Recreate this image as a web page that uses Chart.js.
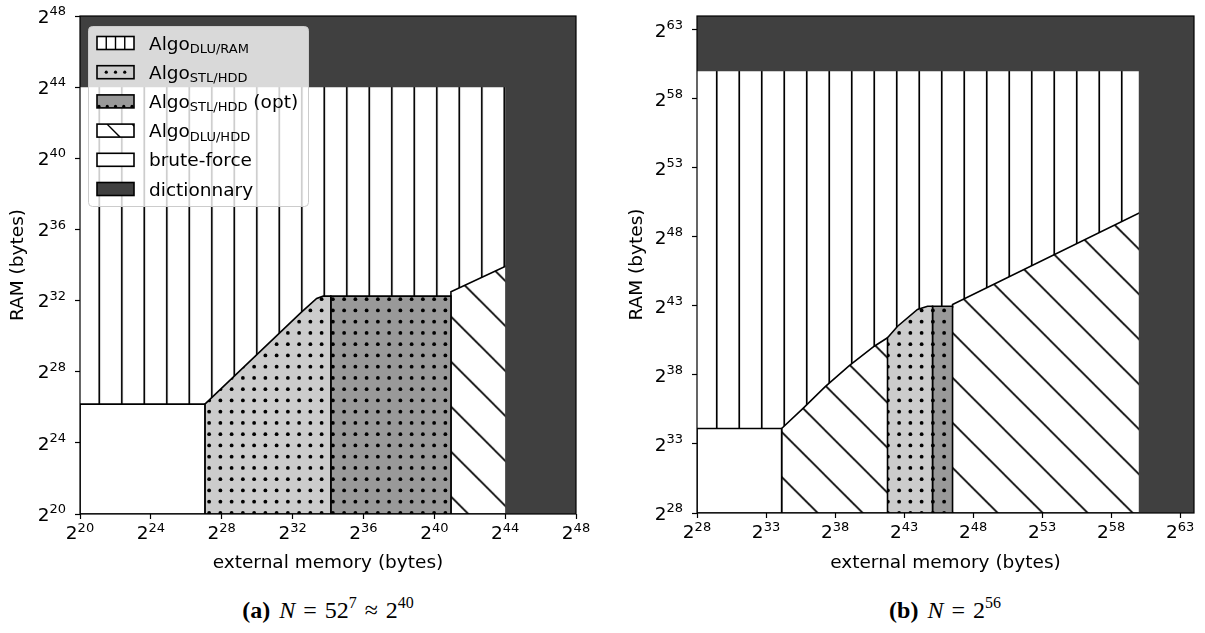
<!DOCTYPE html>
<html>
<head>
<meta charset="utf-8">
<script src="https://cdn.jsdelivr.net/npm/chart.js@4.4.0/dist/chart.umd.min.js"></script>
<style>
  html, body { margin: 0; padding: 0; background: #fff; }
  body { width: 1205px; height: 633px; position: relative; overflow: hidden; }
  canvas { position: absolute; top: 0; }
  #chartA { left: 0; }
  #chartB { left: 600px; }
  .caption { position: absolute; top: 597px; width: 400px; text-align: center;
             font-family: "Liberation Serif", "DejaVu Serif", serif; font-size: 24px; color: #000; }
  .caption sup { font-size: 16px; vertical-align: 0; position: relative; top: -10px; }
  .caption .op { margin: 0 8px; }
  .caption b { margin-right: 3px; }
</style>
</head>
<body>
<canvas id="chartA" width="600" height="590"></canvas>
<canvas id="chartB" width="605" height="590"></canvas>
<div class="caption" style="left:128px"><b>(a)</b> <i>N</i><span class="op">=</span>52<sup>7</sup><span class="op">≈</span>2<sup>40</sup></div>
<div class="caption" style="left:745px"><b>(b)</b> <i>N</i><span class="op">=</span>2<sup>56</sup></div>
<script>
// axis ticks, as powers of two
const ticksA = [20, 24, 28, 32, 36, 40, 44, 48];
const ticksB = [28, 33, 38, 43, 48, 53, 58, 63];

// panel (a), N = 52^7: regions as [log2 external memory, log2 RAM] corners
const dluRamA = [[20, 20], [20, 48], [48, 48], [48, 20]];
const dluHddA = [[40.94, 20], [40.94, 32.5], [48, 35.78], [48, 20], [40.94, 20]];
const stlOptA = [[34.16, 20], [34.16, 32.25], [40.94, 32.25], [40.94, 20], [34.16, 20]];
const stlA = [[27.05, 20], [27.05, 26.18], [32.47, 31.32], [33.36, 32.12], [33.73, 32.25],
              [34.16, 32.25], [34.16, 20], [27.05, 20]];
const bruteA = [[20, 20], [20, 26.18], [27.05, 26.18], [27.05, 20], [20, 20]];
const dictA = [[44, 20], [48, 20], [48, 48], [20, 48], [20, 44], [44, 44]];

// panel (b), N = 2^56
const dluRamB = [[28, 28], [28, 64], [64, 64], [64, 28]];
const dluHddB = [[34.13, 28], [34.13, 34.12], [35.70, 35.60], [37.27, 37.13], [39.03, 38.68],
                 [40.84, 40.08], [41.80, 40.69], [46.51, 42.9], [46.51, 43.1], [64, 51.67],
                 [64, 28], [34.13, 28]];
const stlB = [[41.80, 28], [41.80, 40.69], [42.53, 41.53], [43.97, 42.74], [44.70, 42.98],
              [45.06, 42.98], [45.06, 28], [41.80, 28]];
const stlOptB = [[45.06, 28], [45.06, 42.98], [46.51, 42.98], [46.51, 28], [45.06, 28]];
const bruteB = [[28, 28], [28, 34.12], [34.13, 34.12], [34.13, 28], [28, 28]];
const dictB = [[60, 28], [64, 28], [64, 64], [28, 64], [28, 60], [60, 60]];

// legend entries: name, subscript, trailing text, swatch style
const legendNames = ['Algo', 'Algo', 'Algo', 'Algo', 'brute-force', 'dictionnary'];
const legendSubs = ['DLU/RAM', 'STL/HDD', 'STL/HDD', 'DLU/HDD', '', ''];
const legendTails = ['', '', ' (opt)', '', '', ''];
const legendKinds = ['vbar', 'dots', 'dotsOpt', 'diag', 'plain', 'dark'];

const FONT = '"DejaVu Sans", sans-serif';
const FS = 18.5, SUB = 13;
const LIGHT = '#cccccc', MID = '#999999', DARK = '#404040';

// 45px hatch tiles, shifted so that the lines sit where the plot expects them
function hatch(kind, dx, dy) {
  const c = document.createElement('canvas');
  c.width = 45; c.height = 45;
  const g = c.getContext('2d');
  g.fillStyle = kind === 'dots' ? LIGHT : kind === 'dotsOpt' ? MID : '#fff';
  g.fillRect(0, 0, 45, 45);
  g.strokeStyle = '#000';
  g.fillStyle = '#000';
  g.lineWidth = 1.7;
  if (kind === 'vbar') {
    [11.25, 33.75].forEach(x => { g.beginPath(); g.moveTo(x, 0); g.lineTo(x, 45); g.stroke(); });
  } else if (kind === 'diag') {
    [-45, 0, 45].forEach(k => { g.beginPath(); g.moveTo(-5, k - 5); g.lineTo(50, k + 50); g.stroke(); });
  } else {
    for (let i = 0; i < 4; i++) {
      for (let j = 0; j < 4; j++) {
        g.beginPath();
        g.arc(5.625 + 11.25 * i, 5.625 + 11.25 * j, 1.9, 0, Math.PI * 2);
        g.fill();
      }
    }
  }
  const p = g.createPattern(c, 'repeat');
  p.setTransform(new DOMMatrix().translate(dx, dy));
  return p;
}

function region(label, pts, fill, edge) {
  return {
    label,
    data: pts.map(([x, y]) => ({x, y})),
    fill: 'shape',
    backgroundColor: fill,
    borderColor: edge ? '#000' : 'rgba(0,0,0,0)',
    borderWidth: 1.6,
    pointRadius: 0,
    pointHoverRadius: 0,
    tension: 0
  };
}

// listed bottom to top; lower order is painted later
function layers(list) {
  return list.map((d, i) => Object.assign(d, {order: list.length - i}));
}

function axis(ticks, min, max, pos, size, title, pad) {
  return {
    type: 'linear',
    position: pos,
    min, max,
    afterBuildTicks: s => { s.ticks = ticks.map(v => ({value: v})); },
    afterFit: s => { if (pos === 'bottom') s.height = size; else s.width = size; },
    ticks: {display: false},
    grid: {display: true, drawOnChartArea: false, drawTicks: true, tickLength: 5,
           tickWidth: 1.2, tickColor: '#000'},
    border: {display: false},
    title: {display: true, text: title, color: '#000', font: {family: FONT, size: FS},
            padding: pos === 'bottom' ? {top: 0, bottom: pad} : {top: pad, bottom: 0}}
  };
}

// box around the plot, drawn over the filled regions
const frame = {
  id: 'frame',
  afterDatasetsDraw(chart) {
    const {ctx, chartArea: a} = chart;
    ctx.save();
    ctx.strokeStyle = '#000';
    ctx.lineWidth = 1.2;
    ctx.strokeRect(a.left, a.top, a.right - a.left, a.bottom - a.top);
    ctx.restore();
  }
};

// tick labels as 2 with a raised exponent
const powLabels = {
  id: 'powLabels',
  afterDraw(chart) {
    const {ctx, chartArea: a, scales} = chart;
    ctx.save();
    ctx.fillStyle = '#000';
    ctx.textAlign = 'left';
    ctx.textBaseline = 'alphabetic';
    const put = (exp, x, y, center) => {
      ctx.font = FS + 'px ' + FONT;
      const wb = ctx.measureText('2').width;
      ctx.font = SUB + 'px ' + FONT;
      const ws = ctx.measureText(String(exp)).width;
      const left = center ? x - (wb + ws) / 2 : x - wb - ws;
      ctx.font = FS + 'px ' + FONT;
      ctx.fillText('2', left, y);
      ctx.font = SUB + 'px ' + FONT;
      ctx.fillText(String(exp), left + wb, y - 7.5);
    };
    scales.x.ticks.forEach(t => put(t.value, scales.x.getPixelForValue(t.value), a.bottom + 25, true));
    scales.y.ticks.forEach(t => put(t.value, a.left - 14, scales.y.getPixelForValue(t.value) + 6.7, false));
    ctx.restore();
  }
};

function swatch(ctx, kind, x, y, w, h) {
  ctx.save();
  ctx.beginPath();
  ctx.rect(x, y, w, h);
  ctx.fillStyle = kind === 'dots' ? LIGHT : kind === 'dotsOpt' ? MID : kind === 'dark' ? DARK : '#fff';
  ctx.fill();
  ctx.clip();
  ctx.strokeStyle = '#000';
  ctx.fillStyle = '#000';
  ctx.lineWidth = 1.4;
  if (kind === 'vbar') {
    for (let k = 1; k < 4; k++) {
      ctx.beginPath(); ctx.moveTo(x + w * k / 4, y); ctx.lineTo(x + w * k / 4, y + h); ctx.stroke();
    }
  } else if (kind === 'dots') {
    for (let k = 1; k < 4; k++) {
      ctx.beginPath(); ctx.arc(x + w * k / 4, y + h / 2, 1.6, 0, Math.PI * 2); ctx.fill();
    }
  } else if (kind === 'dotsOpt') {
    for (let k = 0; k < 5; k++) {
      ctx.beginPath(); ctx.arc(x + 2 + w * k / 4 - k, y + h - 1.5, 1.6, 0, Math.PI * 2); ctx.fill();
    }
  } else if (kind === 'diag') {
    [x + 10, x + 35].forEach(x0 => {
      ctx.beginPath(); ctx.moveTo(x0, y); ctx.lineTo(x0 + h, y + h); ctx.stroke();
    });
  }
  ctx.restore();
  ctx.strokeStyle = '#000';
  ctx.lineWidth = 1.6;
  ctx.strokeRect(x, y, w, h);
}

const legendBox = {
  id: 'legendBox',
  afterDraw(chart) {
    const {ctx, chartArea: a} = chart;
    const x0 = a.left + 8, y0 = a.top + 10, w = 220, h = 180;
    ctx.save();
    ctx.beginPath();
    ctx.roundRect(x0 + 0.5, y0 + 0.5, w, h, 4);
    ctx.fillStyle = 'rgba(255,255,255,0.8)';
    ctx.fill();
    ctx.strokeStyle = '#cccccc';
    ctx.lineWidth = 1;
    ctx.stroke();
    legendNames.forEach((name, i) => {
      const cy = y0 + 17 + i * 29.2;
      swatch(ctx, legendKinds[i], x0 + 9, cy - 6.5, 37, 13);
      let tx = x0 + 61;
      const base = cy + 6.5;
      ctx.fillStyle = '#000';
      ctx.textAlign = 'left';
      ctx.textBaseline = 'alphabetic';
      ctx.font = FS + 'px ' + FONT;
      ctx.fillText(name, tx, base);
      tx += ctx.measureText(name).width;
      if (legendSubs[i]) {
        ctx.font = SUB + 'px ' + FONT;
        ctx.fillText(legendSubs[i], tx, base + 3.5);
        tx += ctx.measureText(legendSubs[i]).width;
      }
      if (legendTails[i]) {
        ctx.font = FS + 'px ' + FONT;
        ctx.fillText(legendTails[i], tx, base);
      }
    });
    ctx.restore();
  }
};

function panel(id, datasets, ticks, min, max, yWidth, xHeight, padRight, yTitlePad, extra) {
  return new Chart(document.getElementById(id), {
    type: 'line',
    data: {datasets},
    options: {
      responsive: false,
      animation: false,
      events: [],
      layout: {autoPadding: false, padding: {top: 16, right: padRight, bottom: 0, left: 0}},
      plugins: {legend: {display: false}, tooltip: {enabled: false}},
      scales: {
        x: axis(ticks, min, max, 'bottom', xHeight, 'external memory (bytes)', 15.5),
        y: axis(ticks, min, max, 'left', yWidth, 'RAM (bytes)', yTitlePad)
      }
    },
    plugins: [frame, powLabels].concat(extra)
  });
}

panel('chartA', layers([
  region('AlgoDLU/RAM', dluRamA, hatch('vbar', -1.95, 0), false),
  region('AlgoDLU/HDD', dluHddA, hatch('diag', 0, 0.6), true),
  region('AlgoSTL/HDD (opt)', stlOptA, hatch('dotsOpt', 1, 1), true),
  region('AlgoSTL/HDD', stlA, hatch('dots', 1, 1), true),
  region('brute-force', bruteA, '#fff', true),
  region('dictionnary', dictA, DARK, false)
]), ticksA, 20, 48, 80, 76, 24, 7, [legendBox]);

panel('chartB', layers([
  region('AlgoDLU/RAM', dluRamB, hatch('vbar', -7.05, 0), false),
  region('AlgoDLU/HDD', dluHddB, hatch('diag', 0, 25.3), true),
  region('AlgoSTL/HDD (opt)', stlOptB, hatch('dotsOpt', 1, 1), true),
  region('AlgoSTL/HDD', stlB, hatch('dots', 1, 1), true),
  region('brute-force', bruteB, '#fff', true),
  region('dictionnary', dictB, DARK, false)
]), ticksB, 28, 64, 97, 77, 11, 26, []);
</script>
</body>
</html>
